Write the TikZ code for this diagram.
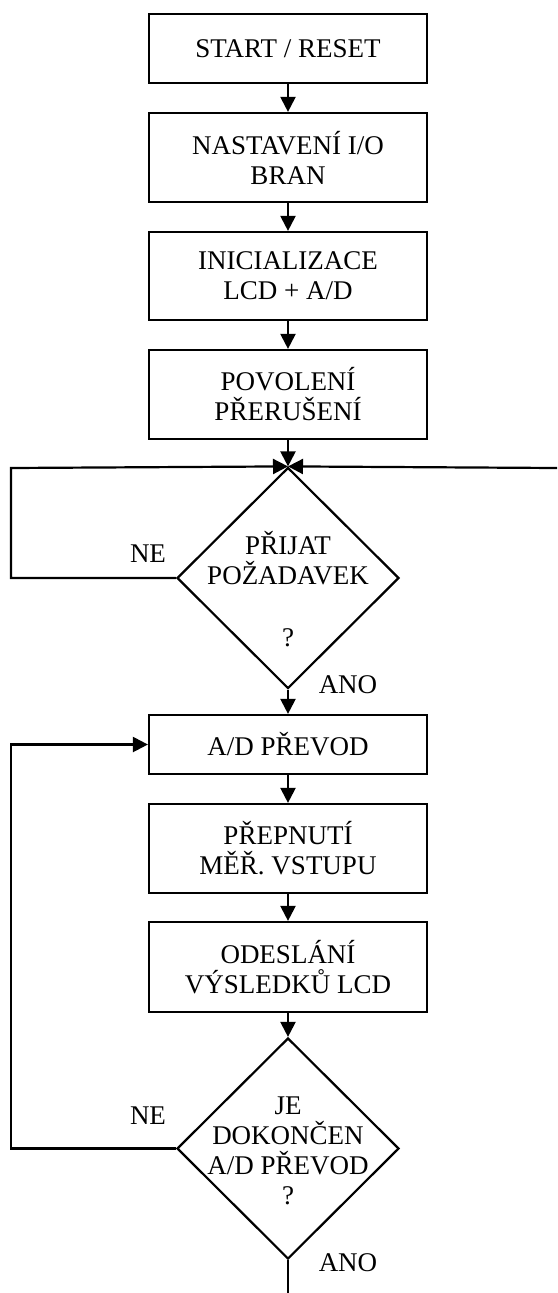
\documentclass[tikz,border=0pt]{standalone}
\usepackage{fontspec}
\setmainfont{Liberation Serif}
\usetikzlibrary{shapes.geometric,arrows.meta}
\begin{document}
\begin{tikzpicture}[x=1pt,y=-1pt,
  every node/.style={font=\fontsize{27pt}{30pt}\selectfont},
  stepbox/.style={draw,line width=2.2pt,rectangle,minimum width=278pt,inner sep=0pt,align=center},
  decision/.style={draw,line width=2.2pt,diamond,minimum width=222pt,minimum height=221pt,inner sep=0pt},
  dtext/.style={align=center,inner sep=0pt},
  lbl/.style={inner sep=0pt},
  conn/.style={line width=2.2pt},
  arr/.style={conn,-{Triangle[length=15pt,width=15pt]}}]
\useasboundingbox (0,0) rectangle (557,1293);
\node[stepbox,minimum height=69pt] (b1) at (288,48.5) {START / RESET};
\node[stepbox,minimum height=89pt] (b2) at (288,157.5) {NASTAVENÍ I/O\\BRAN};
\node[stepbox,minimum height=88pt] (b3) at (288,276) {INICIALIZACE\\LCD + A/D};
\node[stepbox,minimum height=89pt] (b4) at (288,394.5) {POVOLENÍ\\PŘERUŠENÍ};
\node[decision] (d1) at (288,578) {};
\node[dtext] (t1) at (288,589) {PŘIJAT\\POŽADAVEK\\[2pt] \\?};
\node[stepbox,minimum height=59pt] (b5) at (288,744.5) {A/D PŘEVOD};
\node[stepbox,minimum height=89pt] (b6) at (288,848.5) {PŘEPNUTÍ\\MĚŘ. VSTUPU};
\node[stepbox,minimum height=90pt] (b7) at (288,967) {ODESLÁNÍ\\VÝSLEDKŮ LCD};
\node[decision] (d2) at (288,1148.5) {};
\node[dtext] (t2) at (288,1151) {JE\\DOKONČEN\\A/D PŘEVOD\\?};
\node[lbl] (ne1) at (148,554) {NE};
\node[lbl] (ano1) at (348,685) {ANO};
\node[lbl] (ne2) at (148,1116) {NE};
\node[lbl] (ano2) at (348,1263) {ANO};
\coordinate (L1) at (11,468);
\coordinate (R1) at (557,468);
\coordinate (L2) at (11,744.5);
\coordinate (E) at (288,1293);
\draw[arr] (b1.south) -- (b2.north);
\draw[arr] (b2.south) -- (b3.north);
\draw[arr] (b3.south) -- (b4.north);
\draw[arr] (b4.south) -- (d1.north);
\draw[arr] (d1.west) -| (L1) -- (d1.north);
\draw[arr] (R1) -- (d1.north);
\draw[arr] (d1.south) -- (b5.north);
\draw[arr] (b5.south) -- (b6.north);
\draw[arr] (b6.south) -- (b7.north);
\draw[arr] (b7.south) -- (d2.north);
\draw[arr] (d2.west) -| (L2) -- (b5.west);
\draw[conn] (d2.south) -- (E);
\end{tikzpicture}
\end{document}
